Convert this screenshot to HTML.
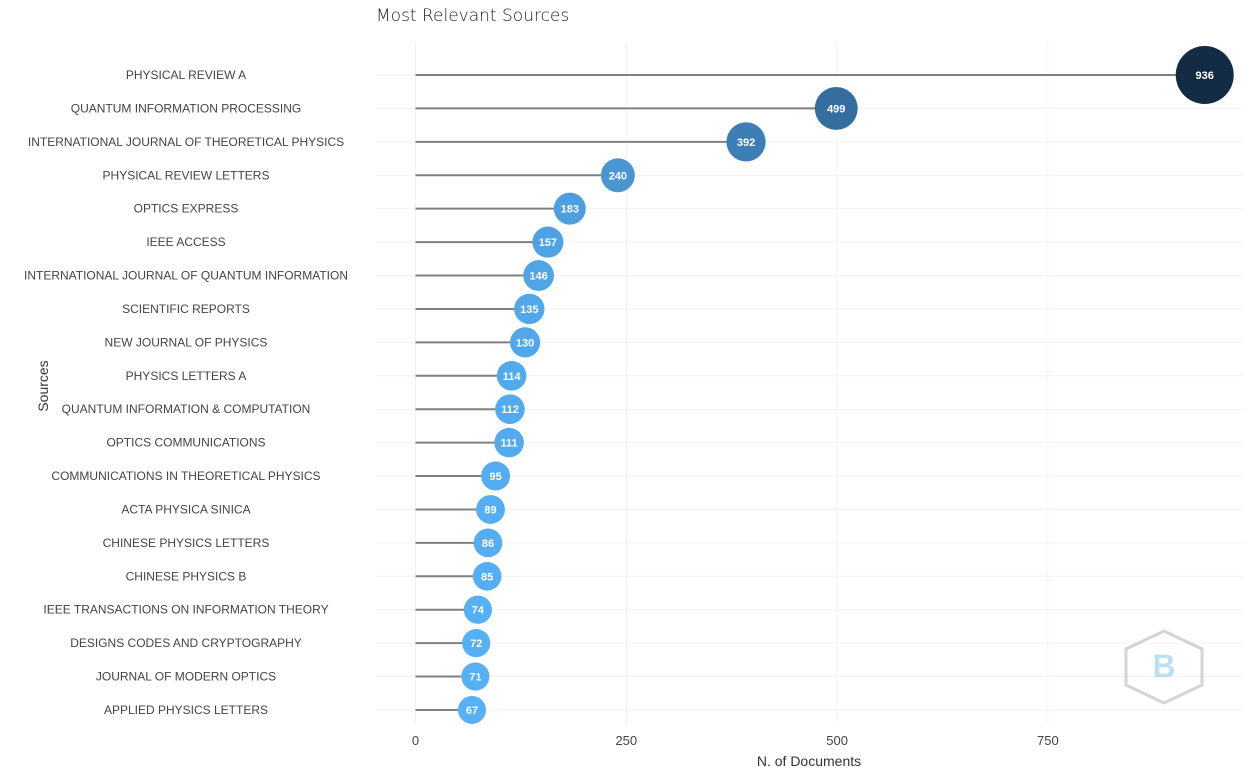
<!DOCTYPE html>
<html><head><meta charset="utf-8"><style>
body{margin:0;background:#fff;font-family:"Liberation Sans","DejaVu Sans",sans-serif}
</style></head><body>
<svg id="c" width="1249" height="768" xmlns="http://www.w3.org/2000/svg">
<text x="376" y="21" font-size="17" fill="#222" font-family="DejaVu Sans, sans-serif" font-weight="300">Most Relevant Sources</text>
<text x="809" y="766" font-size="14" fill="#333" text-anchor="middle">N. of Documents</text>
<text transform="translate(48,386) rotate(-90)" font-size="14" fill="#333" text-anchor="middle">Sources</text>
<g id="grid"></g><g id="marks"></g>
<g transform="translate(1164,667)" opacity="0.5">
<polygon points="0,-36 38,-18 38,18 0,36 -38,18 -38,-18" fill="none" stroke="#aaa" stroke-width="3"/>
<text x="0" y="10" font-size="32" fill="#7cc3e8" text-anchor="middle" font-weight="bold">B</text>
</g>
</svg>
<script>
const categories=["PHYSICAL REVIEW A","QUANTUM INFORMATION PROCESSING","INTERNATIONAL JOURNAL OF THEORETICAL PHYSICS","PHYSICAL REVIEW LETTERS","OPTICS EXPRESS","IEEE ACCESS","INTERNATIONAL JOURNAL OF QUANTUM INFORMATION","SCIENTIFIC REPORTS","NEW JOURNAL OF PHYSICS","PHYSICS LETTERS A","QUANTUM INFORMATION & COMPUTATION","OPTICS COMMUNICATIONS","COMMUNICATIONS IN THEORETICAL PHYSICS","ACTA PHYSICA SINICA","CHINESE PHYSICS LETTERS","CHINESE PHYSICS B","IEEE TRANSACTIONS ON INFORMATION THEORY","DESIGNS CODES AND CRYPTOGRAPHY","JOURNAL OF MODERN OPTICS","APPLIED PHYSICS LETTERS"];
const values=[936,499,392,240,183,157,146,135,130,114,112,111,95,89,86,85,74,72,71,67];
const xTicks=[0,250,500,750];
const NS="http://www.w3.org/2000/svg";
const x=v=>415.5+v*0.8432;
const y=i=>75+i*33.42;
const vmin=Math.min(...values),vmax=Math.max(...values);
const rad=v=>14+(v-vmin)/(vmax-vmin)*15;
function col(v){const t=(v-vmin)/(vmax-vmin);const a=[0x56,0xb1,0xf7],b=[0x13,0x2b,0x43];return "rgb("+a.map((c,k)=>Math.round(c+(b[k]-c)*t)).join(",")+")";}
function mk(tag,at,parent){const e=document.createElementNS(NS,tag);for(const k in at)e.setAttribute(k,at[k]);parent.appendChild(e);return e;}
const g=document.getElementById('grid'),m=document.getElementById('marks');
xTicks.forEach(t=>{
 const l=mk('line',{x1:x(t),x2:x(t),y1:42,y2:725,stroke:'#f2f2f2','stroke-width':1},g);
 
 
 const tx=mk('text',{x:x(t),y:745,'font-size':13,fill:'#444','text-anchor':'middle'},g);
 tx.textContent=t;
 
 
});
categories.forEach((c,i)=>{
 const gl=mk('line',{x1:376,x2:1243,y1:y(i),y2:y(i),stroke:'#f2f2f2','stroke-width':1},g);
 
 
 const tl=mk('text',{x:186,y:y(i)+4,'font-size':12,fill:'#444','text-anchor':'middle'},g);
 tl.textContent=c;
 
 
 const v=values[i];
 const ln=mk('line',{x1:x(0),x2:x(v),y1:y(i),y2:y(i),stroke:'#808080','stroke-width':2},m);
 
 
 const ci=mk('circle',{cx:x(v),cy:y(i),r:rad(v),fill:col(v)},m);
 
 
 const lb=mk('text',{x:x(v),y:y(i)+4,'font-size':11,'font-weight':'bold',fill:'#fff','text-anchor':'middle'},m);
 lb.textContent=v;
 
 
});
</script>
</body></html>
